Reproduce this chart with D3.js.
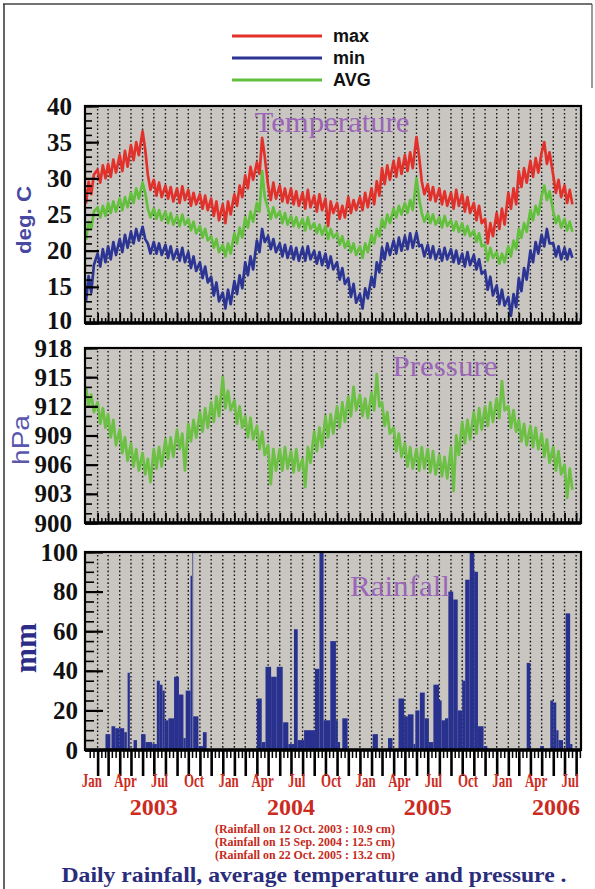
<!DOCTYPE html>
<html>
<head>
<meta charset="utf-8">
<script src="https://cdn.jsdelivr.net/npm/d3@7"></script>
<style>
  body { margin: 0; background: #fff; }
  svg { display: block; }
</style>
</head>
<body>
<div id="chart"></div>
<script>
// ---- data ----
// weekly samples: 4 per month (1st, 8th, 15th, 22nd), Jan 2003 .. Jul 2006
const sampleDays = [1, 8, 15, 22];

const tempMax = [
  // 2003
  26.5, 29.5, 27.8, 30.5,  31.2, 29.4, 31.8, 30.0,  32.0, 30.2, 32.6, 30.8,  33.2, 31.0, 33.8, 31.6,
  34.6, 32.5, 35.0, 33.2,  36.5, 34.0, 30.5, 28.4,  29.8, 27.6, 29.4, 27.4,  29.0, 27.2, 28.8, 26.8,
  28.6, 26.6, 28.9, 27.0,  28.4, 26.2, 28.0, 26.4,  27.8, 25.8, 27.6, 25.6,  27.2, 24.8, 26.8, 24.2,
  // 2004
  26.4, 23.8, 26.8, 25.0,  27.8, 26.2, 29.0, 27.4,  30.4, 28.6, 31.6, 29.8,  32.2, 30.6, 35.6, 33.0,
  29.0, 27.0, 29.4, 27.2,  29.0, 26.8, 28.6, 26.6,  28.6, 26.4, 28.2, 26.2,  28.0, 25.8, 28.4, 26.0,
  27.6, 25.4, 27.8, 25.6,  27.2, 23.4, 26.8, 25.2,  26.6, 24.4, 26.2, 24.6,  27.4, 25.2, 27.0, 25.6,
  // 2005
  27.4, 25.6, 28.0, 26.0,  28.6, 26.4, 29.6, 27.6,  31.4, 29.2, 31.8, 29.8,  32.4, 30.2, 32.8, 30.6,
  33.2, 31.0, 33.6, 31.4,  35.7, 33.0, 29.6, 27.8,  29.2, 27.0, 28.8, 26.8,  28.6, 26.4, 28.2, 26.2,
  28.0, 25.8, 28.4, 26.2,  27.8, 25.4, 27.4, 25.2,  26.6, 24.2, 26.2, 23.8,  24.4, 21.0, 23.8, 22.0,
  // 2006
  25.2, 23.0, 25.8, 23.6,  28.0, 25.8, 28.6, 26.4,  31.0, 28.8, 31.4, 29.4,  32.4, 30.2, 32.8, 30.8,
  33.6, 35.0, 32.0, 33.6,  30.4, 28.0, 29.8, 27.4,  29.0, 26.6, 28.4, 26.4
];

const tempMin = [
  // 2003
  13.0, 16.5, 14.2, 18.0,  19.6, 17.8, 20.2, 18.4,  20.6, 18.8, 21.2, 19.4,  21.6, 19.8, 22.2, 20.4,
  22.6, 21.0, 23.0, 21.4,  23.3, 21.6, 21.0, 19.6,  21.2, 19.6, 21.0, 19.4,  20.8, 19.0, 20.6, 18.8,
  20.2, 18.6, 20.4, 18.4,  19.8, 17.6, 19.2, 17.2,  18.4, 16.2, 17.8, 15.6,  16.4, 13.8, 15.6, 13.0,
  // 2004
  14.2, 12.0, 14.6, 12.6,  15.8, 14.0, 16.6, 14.8,  18.4, 16.6, 19.2, 17.4,  21.4, 19.8, 23.0, 21.2,
  22.0, 20.2, 21.6, 19.8,  21.0, 19.2, 20.8, 19.0,  20.6, 18.8, 20.4, 18.6,  20.4, 18.6, 20.6, 18.8,
  20.0, 18.2, 19.8, 18.0,  19.6, 17.6, 19.2, 17.4,  18.4, 16.0, 17.6, 15.4,  16.2, 13.6, 15.4, 12.8,
  // 2005
  14.0, 12.0, 14.8, 13.4,  16.4, 15.0, 18.4, 17.0,  20.4, 18.8, 21.0, 19.4,  21.4, 19.6, 21.8, 20.0,
  22.0, 20.2, 22.4, 20.4,  22.5, 20.6, 20.8, 19.2,  20.8, 19.0, 20.6, 18.8,  20.2, 18.6, 20.4, 18.8,
  20.2, 18.4, 20.0, 18.2,  19.6, 17.8, 19.8, 18.0,  19.4, 17.4, 18.8, 16.8,  17.2, 14.6, 16.4, 13.8,
  // 2006
  15.2, 12.6, 14.6, 12.4,  13.6, 11.0, 14.0, 12.2,  16.2, 14.4, 17.6, 16.0,  20.0, 18.4, 21.2, 19.6,
  22.2, 20.6, 23.0, 21.0,  21.0, 19.2, 20.6, 18.8,  20.4, 18.8, 20.2, 19.0
];

const tempAvg = [
  // 2003
  21.5, 24.0, 23.0, 25.4,  26.0, 24.6, 26.2, 24.8,  26.6, 25.2, 26.8, 25.4,  27.2, 25.6, 27.4, 26.0,
  28.0, 26.6, 28.6, 27.2,  29.4, 28.0, 25.8, 24.6,  25.8, 24.4, 25.6, 24.2,  25.4, 23.8, 25.2, 23.6,
  24.8, 23.4, 25.0, 23.6,  24.4, 22.8, 24.0, 22.4,  23.4, 21.8, 23.0, 21.4,  22.0, 20.4, 21.6, 19.8,
  // 2004
  20.8, 19.2, 21.0, 19.6,  22.4, 21.0, 23.2, 21.8,  24.6, 23.2, 25.4, 24.0,  26.6, 25.4, 31.0, 27.4,
  25.8, 24.4, 26.0, 24.6,  25.4, 23.8, 25.2, 23.6,  24.8, 23.4, 24.6, 23.2,  24.4, 22.8, 24.6, 23.0,
  23.8, 22.4, 23.6, 22.2,  23.4, 21.6, 23.0, 21.8,  22.4, 20.8, 22.0, 20.4,  21.4, 19.8, 21.0, 19.4,
  // 2005
  20.6, 19.0, 21.0, 19.8,  22.2, 21.0, 23.0, 22.0,  24.4, 23.2, 25.0, 23.8,  25.8, 24.6, 26.2, 25.0,
  26.6, 25.2, 27.0, 25.6,  30.0, 27.2, 25.2, 24.0,  25.2, 23.8, 25.0, 23.6,  24.6, 23.2, 24.8, 23.4,
  24.2, 22.8, 24.0, 22.6,  23.8, 22.2, 23.4, 22.0,  22.8, 21.2, 22.4, 20.6,  20.8, 18.6, 20.4, 19.0,
  // 2006
  19.8, 18.2, 19.6, 18.4,  20.6, 19.2, 21.4, 20.2,  23.0, 21.8, 23.8, 22.6,  25.6, 24.2, 26.2, 25.0,
  27.6, 29.0, 27.0, 28.2,  25.4, 23.8, 24.8, 23.2,  24.4, 22.8, 24.0, 22.6
];

const pressure = [
  // 2003
  914.0, 912.0, 913.2, 911.4,  912.4, 910.2, 911.8, 909.8,  911.2, 908.8, 910.6, 908.0,  909.6, 907.2, 908.8, 906.4,
  908.2, 905.8, 907.6, 905.4,  907.2, 905.0, 906.6, 904.2,  907.6, 905.6, 907.8, 905.8,  908.6, 906.6, 908.8, 906.8,
  909.6, 907.6, 909.2, 905.4,  910.2, 908.4, 910.6, 908.8,  911.4, 909.4, 911.8, 909.8,  912.4, 910.4, 913.0, 911.0,
  // 2004
  915.0, 911.8, 913.6, 911.6,  912.6, 910.2, 912.0, 909.8,  911.0, 908.8, 910.8, 908.6,  910.0, 907.6, 909.4, 907.0,
  908.0, 904.0, 907.6, 905.4,  907.6, 905.4, 907.8, 905.6,  907.4, 905.2, 907.6, 905.4,  906.6, 903.7, 907.8, 906.2,
  909.4, 907.4, 909.8, 907.8,  911.0, 908.8, 911.2, 909.2,  912.0, 909.8, 912.4, 910.4,  913.0, 911.0, 914.0, 911.6,
  // 2005
  913.2, 911.0, 912.8, 910.8,  913.4, 911.6, 915.3, 912.0,  912.4, 910.0, 911.4, 909.2,  909.8, 907.4, 909.2, 906.8,
  908.2, 905.8, 907.8, 905.6,  907.6, 905.4, 907.8, 905.6,  907.6, 905.2, 907.4, 905.0,  907.0, 904.8, 906.8, 904.6,
  907.8, 903.3, 909.0, 907.0,  910.4, 908.2, 910.6, 908.6,  911.4, 909.2, 911.8, 909.6,  912.0, 910.0, 912.4, 910.4,
  // 2006
  912.8, 910.8, 914.6, 911.6,  912.0, 909.8, 911.6, 909.4,  910.6, 908.4, 910.2, 908.0,  910.0, 907.8, 909.8, 907.6,
  909.2, 906.8, 908.6, 906.2,  907.8, 905.4, 907.4, 905.0,  906.0, 902.6, 905.6, 903.4
];

// rainfall blocks: [start date, length in days, mm]
const rainfall = [
  ["2003-02-22", 13, 8], ["2003-03-10", 10, 12], ["2003-03-20", 12, 11], ["2003-04-01", 12, 11],
  ["2003-04-13", 7, 9], ["2003-04-22", 6, 39], ["2003-05-08", 9, 5], ["2003-05-28", 12, 8],
  ["2003-06-09", 18, 4], ["2003-06-27", 12, 3], ["2003-07-09", 8, 35], ["2003-07-17", 7, 33],
  ["2003-07-24", 6, 30], ["2003-07-30", 10, 15], ["2003-08-09", 15, 16], ["2003-08-24", 13, 37],
  ["2003-09-06", 12, 28], ["2003-09-18", 6, 6], ["2003-09-24", 13, 30], ["2003-10-07", 4, 88],
  ["2003-10-12", 2, 109], ["2003-10-14", 14, 17], ["2003-10-28", 12, 2], ["2003-11-09", 10, 9],
  ["2004-04-01", 13, 26], ["2004-04-14", 10, 4], ["2004-04-24", 15, 42], ["2004-05-09", 15, 37],
  ["2004-05-24", 16, 42], ["2004-06-10", 14, 14], ["2004-06-24", 15, 3], ["2004-07-09", 10, 61],
  ["2004-07-19", 17, 5], ["2004-08-05", 29, 10], ["2004-09-03", 12, 41], ["2004-09-15", 11, 125],
  ["2004-09-26", 18, 15], ["2004-10-14", 15, 55], ["2004-10-29", 5, 15], ["2004-11-03", 6, 4],
  ["2004-11-15", 14, 16],
  ["2005-02-04", 14, 8], ["2005-03-17", 12, 6], ["2005-04-14", 15, 26], ["2005-04-29", 10, 17],
  ["2005-05-09", 15, 18], ["2005-05-24", 5, 3], ["2005-05-29", 11, 20], ["2005-06-10", 13, 29],
  ["2005-06-23", 11, 16], ["2005-07-04", 12, 4], ["2005-07-16", 15, 33], ["2005-07-31", 7, 25],
  ["2005-08-07", 9, 15], ["2005-08-16", 9, 16], ["2005-08-25", 13, 80], ["2005-09-07", 12, 76],
  ["2005-09-19", 12, 20], ["2005-10-01", 8, 35], ["2005-10-09", 12, 86], ["2005-10-21", 12, 132],
  ["2005-11-02", 10, 90], ["2005-11-12", 15, 12], ["2005-11-27", 10, 2],
  ["2006-03-22", 10, 44], ["2006-04-27", 10, 2], ["2006-05-24", 8, 25], ["2006-06-01", 8, 24],
  ["2006-06-09", 6, 10], ["2006-06-15", 12, 5], ["2006-07-04", 12, 69], ["2006-07-16", 6, 3]
];

const seriesNames = ["max", "min", "AVG"];
const monthLabels = ["Jan", "Apr", "Jul", "Oct"];
const yearLabels = ["2003", "2004", "2005", "2006"];
const tempTicks = [10, 15, 20, 25, 30, 35, 40];
const pressureTicks = [900, 903, 906, 909, 912, 915, 918];
const rainTicks = [0, 20, 40, 60, 80, 100];
const notes = [
  "(Rainfall on 12 Oct. 2003 : 10.9 cm)",
  "(Rainfall on 15 Sep. 2004 : 12.5 cm)",
  "(Rainfall on 22 Oct. 2005 : 13.2 cm)"
];
const title = "Daily rainfall, average temperature and pressure .";

// ---- layout ----
const WIDTH = 595;
const HEIGHT = 889;
const PLOT_LEFT = 85;
const PLOT_RIGHT = 581;
const SERIF = "'Liberation Serif', 'Times New Roman', Times, serif";
const SANS = "'Liberation Sans', Arial, Helvetica, sans-serif";
const RED = "#cc2b22";
const LINE_COLORS = { max: "#e2302b", min: "#2c3494", AVG: "#63c03c" };

const parseDate = d3.timeParse("%Y-%m-%d");
const sampleDates = tempMax.map((d, i) => new Date(2003, Math.floor(i / 4), sampleDays[i % 4]));

const x = d3.scaleTime()
  .domain([new Date(2003, 0, 1), new Date(2006, 7, 14)])
  .range([PLOT_LEFT + 1, PLOT_RIGHT]);

const monthTicks = d3.timeMonth.range(new Date(2003, 1, 1), x.domain()[1]);
const tenDayTicks = d3.timeDay.range(x.domain()[0], x.domain()[1])
  .filter(d => d.getDate() === 11 || d.getDate() === 21);

const $svg = d3.select("#chart").append("svg")
  .attr("width", WIDTH)
  .attr("height", HEIGHT);

// page frame
$svg.append("line").attr("x1", 3).attr("x2", 592).attr("y1", 4).attr("y2", 4)
  .attr("stroke", "#444").attr("stroke-width", 1.5);
$svg.append("line").attr("x1", 4).attr("x2", 4).attr("y1", 4).attr("y2", HEIGHT)
  .attr("stroke", "#333").attr("stroke-width", 1.5);
$svg.append("line").attr("x1", 592).attr("x2", 592).attr("y1", 4).attr("y2", 88)
  .attr("stroke", "#555").attr("stroke-width", 1.2);

// legend
const $legend = $svg.append("g").attr("class", "legend");
seriesNames.forEach((name, i) => {
  const ly = 36 + i * 22;
  $legend.append("line")
    .attr("x1", 232).attr("x2", 322).attr("y1", ly).attr("y2", ly)
    .attr("stroke", LINE_COLORS[name]).attr("stroke-width", 3.2);
  $legend.append("text")
    .attr("x", 333).attr("y", ly + 6)
    .attr("font-family", SANS).attr("font-weight", "bold").attr("font-size", 18)
    .attr("fill", "#111")
    .text(name);
});

let clipId = 0;

function drawPanel(p) {
  const y = d3.scaleLinear().domain(p.domain).range([p.bottom, p.top]);
  const $g = $svg.append("g").attr("class", "panel");
  const id = "clip" + (clipId++);

  $svg.append("clipPath").attr("id", id)
    .append("rect")
    .attr("x", PLOT_LEFT).attr("y", p.top)
    .attr("width", PLOT_RIGHT - PLOT_LEFT).attr("height", p.bottom - p.top);

  $g.append("rect")
    .attr("x", PLOT_LEFT).attr("y", p.top)
    .attr("width", PLOT_RIGHT - PLOT_LEFT).attr("height", p.bottom - p.top)
    .attr("fill", "#c9c6c2");

  // dotted monthly grid
  $g.selectAll(".grid").data(monthTicks).join("line")
    .attr("class", "grid")
    .attr("x1", d => x(d)).attr("x2", d => x(d))
    .attr("y1", p.top + 3).attr("y2", p.bottom - 2)
    .attr("stroke", "#161616").attr("stroke-width", 1.4)
    .attr("stroke-dasharray", "1.6 2.3");

  const $vis = $g.append("g").attr("clip-path", `url(#${id})`);
  return { $g, $vis, y, p };
}

function finishPanel(panel) {
  const { $g, y, p } = panel;

  // inner y ticks
  const $minorY = $g.append("g").attr("transform", `translate(${PLOT_LEFT},0)`)
    .call(d3.axisLeft(y).tickValues(d3.range(p.domain[0], p.domain[1] + 0.01, p.minorStep))
      .tickSize(-p.minorLen).tickFormat(""));
  $minorY.select(".domain").remove();
  $minorY.selectAll("line").attr("stroke", "#000").attr("stroke-width", 1.6);

  const $yAxis = $g.append("g").attr("transform", `translate(${PLOT_LEFT},0)`)
    .call(d3.axisLeft(y).tickValues(p.ticks).tickSize(-p.majorLen).tickPadding(p.pad)
      .tickFormat(d3.format("d")));
  $yAxis.select(".domain").remove();
  $yAxis.attr("font-family", SERIF).attr("font-size", 25).attr("font-weight", "bold");
  $yAxis.selectAll("line").attr("stroke", "#000").attr("stroke-width", 2.2);
  $yAxis.selectAll("text").attr("fill", "#111")
    .attr("dy", (d, i) => p.lowLabelUp && i === 0 ? "0.2em" : "0.32em");

  // bottom x ticks
  const dir = p.ticksOut ? 1 : -1;
  const $minorX = $g.append("g").attr("transform", `translate(0,${p.bottom})`)
    .call(d3.axisBottom(x).tickValues(tenDayTicks).tickSize(dir * p.xMinorLen).tickFormat(""));
  $minorX.select(".domain").remove();
  $minorX.selectAll("line").attr("stroke", "#000").attr("stroke-width", 1.5);

  const $monthX = $g.append("g").attr("transform", `translate(0,${p.bottom})`)
    .call(d3.axisBottom(x).tickValues(monthTicks).tickSize(dir * p.xMajorLen).tickFormat(""));
  $monthX.select(".domain").remove();
  $monthX.selectAll("line").attr("stroke", "#000").attr("stroke-width", p.ticksOut ? 2.6 : 1.8);

  // frame
  $g.append("rect")
    .attr("x", PLOT_LEFT).attr("y", p.top)
    .attr("width", PLOT_RIGHT - PLOT_LEFT).attr("height", p.bottom - p.top)
    .attr("fill", "none").attr("stroke", "#000").attr("stroke-width", 2.2);
  $g.append("line")
    .attr("x1", PLOT_LEFT).attr("x2", PLOT_RIGHT).attr("y1", p.bottom).attr("y2", p.bottom)
    .attr("stroke", "#000").attr("stroke-width", 3.6);

  // panel name
  $g.append("text")
    .attr("x", p.nameX).attr("y", p.nameY)
    .attr("text-anchor", "middle")
    .attr("font-family", SERIF).attr("font-size", 30)
    .attr("fill", "#9b66b8")
    .attr("textLength", p.nameLen).attr("lengthAdjust", "spacingAndGlyphs")
    .text(p.name);

  // axis title
  $g.append("text")
    .attr("transform", `translate(${p.titleX},${p.titleY}) rotate(-90)`)
    .attr("text-anchor", "middle")
    .attr("dominant-baseline", "central")
    .attr("font-family", p.titleFont).attr("font-weight", p.titleWeight)
    .attr("font-size", p.titleSize)
    .attr("fill", p.titleColor)
    .attr("textLength", p.titleLen).attr("lengthAdjust", "spacingAndGlyphs")
    .text(p.title);
}

// ---- temperature ----
const temp = drawPanel({ top: 106, bottom: 323, domain: [10, 40] });
const tempLine = d3.line().x((d, i) => x(sampleDates[i])).y(d => temp.y(d));
[["max", tempMax], ["min", tempMin], ["AVG", tempAvg]].forEach(([name, values]) => {
  temp.$vis.append("path")
    .datum(values)
    .attr("d", tempLine)
    .attr("fill", "none")
    .attr("stroke", LINE_COLORS[name])
    .attr("stroke-width", 2.7)
    .attr("stroke-linejoin", "round");
});
finishPanel(Object.assign(temp, {
  p: Object.assign(temp.p, {
    ticks: tempTicks, minorStep: 1, majorLen: 14, minorLen: 7, pad: 13, lowLabelUp: true,
    xMajorLen: 10, xMinorLen: 5, ticksOut: false,
    name: "Temperature", nameX: 332, nameY: 132, nameLen: 155,
    title: "deg. C", titleX: 23, titleY: 220, titleFont: SANS, titleWeight: "bold",
    titleSize: 21, titleColor: "#4848a0", titleLen: 68
  })
}));

// ---- pressure ----
const pres = drawPanel({ top: 348, bottom: 523, domain: [900, 918] });
const presLine = d3.line().x((d, i) => x(sampleDates[i])).y(d => pres.y(d));
pres.$vis.append("path")
  .datum(pressure)
  .attr("d", presLine)
  .attr("fill", "none")
  .attr("stroke", "#6cc043")
  .attr("stroke-width", 2.8)
  .attr("stroke-linejoin", "round");
finishPanel(Object.assign(pres, {
  p: Object.assign(pres.p, {
    ticks: pressureTicks, minorStep: 1, majorLen: 13, minorLen: 7, pad: 13, lowLabelUp: false,
    xMajorLen: 10, xMinorLen: 5, ticksOut: false,
    name: "Pressure", nameX: 445, nameY: 376, nameLen: 105,
    title: "hPa", titleX: 20, titleY: 440, titleFont: SANS, titleWeight: "normal",
    titleSize: 24, titleColor: "#5a56ae", titleLen: 50
  })
}));

// ---- rainfall ----
const rain = drawPanel({ top: 552, bottom: 750, domain: [0, 100] });
rain.$vis.selectAll("rect.bar").data(rainfall).join("rect")
  .attr("class", "bar")
  .attr("x", d => x(parseDate(d[0])))
  .attr("width", d => x(d3.timeDay.offset(parseDate(d[0]), d[1])) - x(parseDate(d[0])))
  .attr("y", d => rain.y(d[2]))
  .attr("height", d => rain.y(0) - rain.y(d[2]))
  .attr("fill", "#29318f");
finishPanel(Object.assign(rain, {
  p: Object.assign(rain.p, {
    ticks: rainTicks, minorStep: 5, majorLen: 18, minorLen: 9, pad: 7, lowLabelUp: false,
    xMajorLen: 26, xMinorLen: 8, ticksOut: true,
    name: "Rainfall", nameX: 400, nameY: 596, nameLen: 100,
    title: "mm", titleX: 25, titleY: 648, titleFont: SERIF, titleWeight: "bold",
    titleSize: 32, titleColor: "#2d2d88", titleLen: 50
  })
}));

// ---- month and year labels under the bottom panel ----
const quarterMids = d3.timeMonth.every(3).range(x.domain()[0], x.domain()[1])
  .map(d => d3.timeDay.offset(d, 14));
const $months = $svg.append("g").attr("transform", `translate(0,${rain.p.bottom})`)
  .call(d3.axisBottom(x).tickValues(quarterMids).tickSize(0).tickPadding(24)
    .tickFormat(d => monthLabels[Math.floor(d.getMonth() / 3)]));
$months.select(".domain").remove();
$months.attr("font-family", SERIF).attr("font-size", 18).attr("font-weight", "bold");
$months.selectAll("text").attr("fill", RED)
  .each(function () {
    const w = this.getComputedTextLength();
    d3.select(this).attr("textLength", w * 0.72).attr("lengthAdjust", "spacingAndGlyphs");
  });

const yearAnchors = yearLabels.map(yr => new Date(+yr, 6, 1));
const $years = $svg.append("g").attr("transform", `translate(0,${rain.p.bottom})`)
  .call(d3.axisBottom(x).tickValues(yearAnchors).tickSize(0).tickPadding(48)
    .tickFormat((d, i) => yearLabels[i]));
$years.select(".domain").remove();
$years.attr("font-family", SERIF).attr("font-size", 24).attr("font-weight", "bold");
$years.selectAll("text").attr("fill", RED);
// keep the last year label inside the plot edge
$years.selectAll(".tick").attr("transform", d => `translate(${Math.min(x(d), PLOT_RIGHT - 25)},0)`);

// ---- notes and caption ----
$svg.selectAll("text.note").data(notes).join("text")
  .attr("class", "note")
  .attr("x", 305).attr("y", (d, i) => 833 + i * 13)
  .attr("text-anchor", "middle")
  .attr("font-family", SERIF).attr("font-weight", "bold").attr("font-size", 12)
  .attr("fill", "#c42a20")
  .attr("textLength", 180).attr("lengthAdjust", "spacingAndGlyphs")
  .text(d => d);

$svg.append("text")
  .attr("x", 314).attr("y", 882)
  .attr("text-anchor", "middle")
  .attr("font-family", SERIF).attr("font-weight", "bold").attr("font-size", 22)
  .attr("fill", "#2a2c7c")
  .attr("textLength", 505).attr("lengthAdjust", "spacingAndGlyphs")
  .text(title);
</script>
</body>
</html>
